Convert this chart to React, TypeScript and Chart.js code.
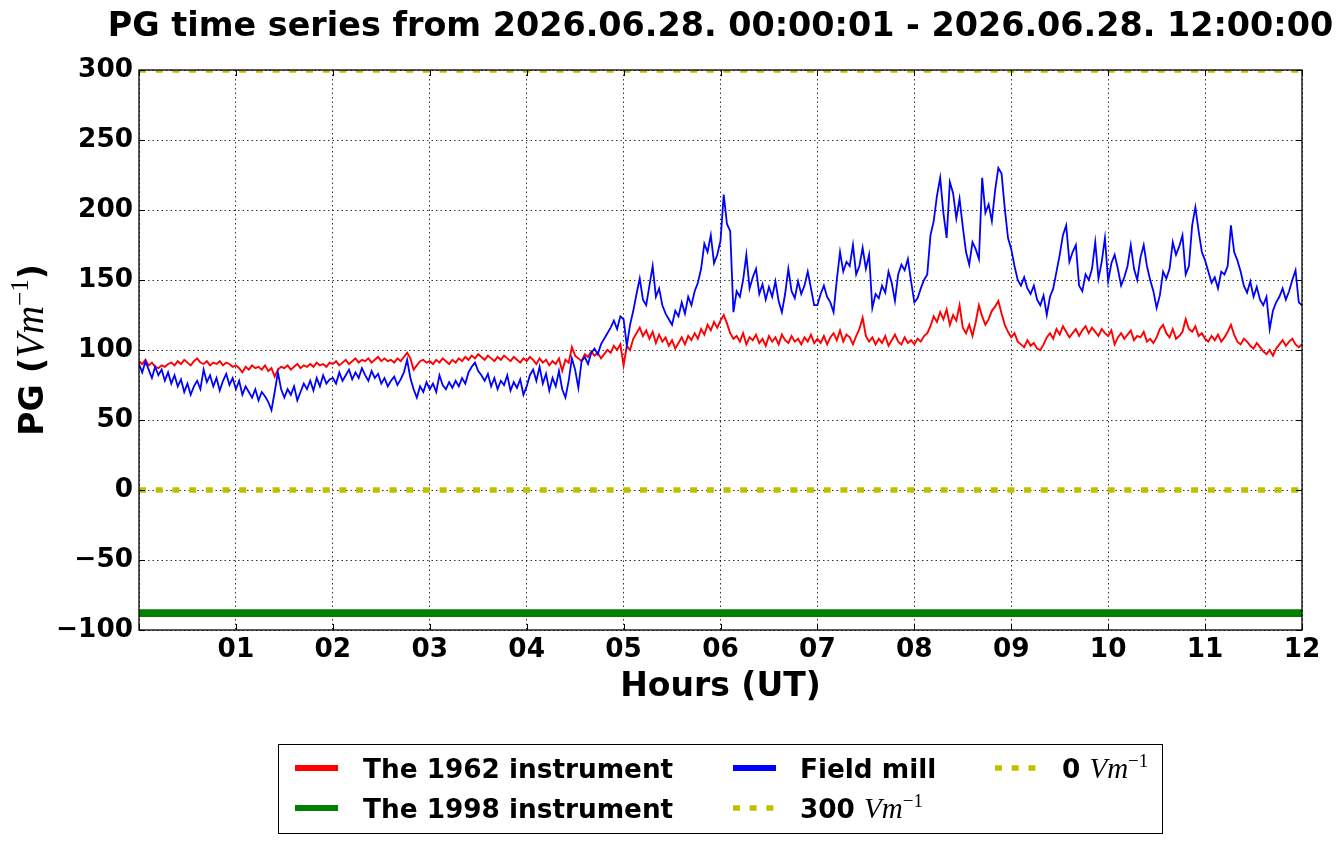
import React, { useEffect, useRef } from "react";
import { Chart, registerables } from "chart.js";

Chart.register(...registerables);

// ---------- data ----------
const STEP_MINUTES = 2; // one value every 2 minutes, 00:00 .. 12:00

// The 1962 instrument (V/m)
const RED_1962: number[] = [
  92, 90, 93, 89, 91, 88, 87, 89, 88, 90, 91, 89, 92, 90, 93, 91, 89, 92, 94, 91, 90, 92, 89, 91, 90, 92, 89, 91, 90, 88,
  89, 87, 84, 88, 86, 89, 87, 88, 86, 89, 85, 87, 81, 86, 88, 87, 89, 86, 88, 90, 87, 89, 88, 90, 88, 91, 89, 90, 88, 91,
  90, 92, 89, 91, 93, 90, 92, 94, 91, 93, 92, 94, 91, 93, 95, 92, 94, 92, 93, 91, 94, 92, 95, 98, 94, 86, 89, 92, 93, 91,
  92, 90, 93, 91, 94, 92, 90, 93, 91, 94, 92, 95, 93, 96, 94, 97, 95, 93, 96, 94, 92, 95, 93, 96, 94, 92, 95, 93, 91, 94,
  92, 95, 93, 90, 94, 91, 93, 89, 92, 90, 94, 85, 93, 91, 102, 96, 94, 92, 97, 95, 99, 96, 98, 94, 97, 100, 98, 103, 100, 104,
  89, 103, 100, 108, 112, 116, 110, 114, 108, 113, 105, 111, 106, 109, 103, 107, 101, 105, 109, 104, 110, 107, 112, 108, 115, 111, 118, 114, 120, 116,
  121, 125, 119, 112, 108, 110, 106, 112, 104, 109, 107, 111, 105, 108, 103, 110, 106, 109, 104, 111, 107, 105, 110, 106, 108, 104, 109, 106, 111, 105,
  108, 105, 110, 104, 109, 112, 107, 114, 106, 111, 109, 104, 110, 115, 123, 110, 106, 109, 104, 108, 105, 110, 103, 107, 111, 106, 104, 109, 105, 107,
  104, 108, 106, 110, 112, 117, 124, 120, 127, 122, 129, 118, 125, 121, 132, 116, 112, 118, 110, 120, 132, 124, 118, 122, 128, 131, 135, 126, 118, 113,
  109, 112, 106, 104, 102, 107, 103, 105, 101, 100, 104, 109, 112, 108, 115, 111, 117, 113, 109, 112, 115, 110, 114, 117, 112, 116, 113, 110, 115, 112,
  110, 114, 104, 109, 112, 108, 111, 114, 107, 110, 109, 113, 106, 108, 105, 109, 115, 118, 112, 109, 115, 108, 110, 113, 122, 115, 113, 117, 110, 112,
  108, 106, 110, 107, 111, 106, 109, 113, 118, 111, 106, 104, 108, 106, 103, 101, 105, 102, 99, 97, 100, 96, 101, 104, 107, 103, 106, 108, 104, 102,
  104,
];

// Field mill (V/m)
const FIELD_MILL: number[] = [
  90, 84, 92, 86, 80, 88, 82, 86, 78, 84, 76, 82, 74, 79, 70, 76, 68, 74, 78, 72, 86, 77, 82, 74, 80, 71, 78, 83, 75, 80,
  72, 78, 68, 74, 70, 66, 72, 64, 70, 67, 63, 57, 70, 84, 72, 66, 72, 68, 74, 64, 70, 76, 72, 78, 71, 80, 74, 82, 76, 79,
  80, 76, 84, 78, 82, 86, 79, 84, 80, 87, 82, 78, 85, 80, 83, 76, 80, 74, 78, 81, 75, 79, 84, 93, 80, 72, 66, 74, 70, 77,
  72, 76, 70, 82, 75, 72, 77, 73, 78, 74, 80, 76, 84, 88, 91, 85, 82, 78, 83, 74, 80, 72, 78, 75, 82, 71, 77, 73, 79, 68,
  74, 82, 86, 78, 88, 76, 83, 71, 80, 74, 85, 72, 66, 78, 94, 86, 73, 92, 95, 90, 98, 101, 97, 104, 108, 112, 116, 121, 115, 124,
  122, 103, 118, 128, 140, 151, 136, 132, 146, 160, 138, 144, 132, 126, 122, 118, 128, 124, 134, 126, 138, 132, 142, 148, 158, 176, 170, 182, 162, 168,
  178, 211, 190, 185, 127, 142, 138, 150, 168, 144, 152, 158, 140, 147, 136, 145, 138, 149, 135, 127, 140, 158, 142, 137, 149, 140, 146, 156, 144, 132,
  132, 140, 146, 138, 134, 127, 150, 170, 156, 163, 160, 175, 154, 160, 173, 158, 168, 130, 140, 137, 146, 141, 156, 148, 135, 154, 161, 157, 165, 149,
  134, 137, 144, 150, 154, 182, 192, 210, 223, 198, 180, 220, 212, 194, 208, 188, 170, 161, 177, 172, 165, 223, 198, 204, 192, 214, 230, 226, 201, 180,
  172, 160, 150, 146, 152, 144, 140, 146, 136, 132, 139, 125, 138, 144, 156, 168, 182, 189, 163, 170, 175, 146, 142, 154, 150, 158, 177, 151, 163, 180,
  149, 162, 168, 158, 146, 152, 160, 175, 158, 150, 166, 175, 160, 150, 142, 130, 139, 156, 151, 158, 177, 168, 174, 182, 154, 160, 189, 202, 185, 170,
  164, 156, 148, 152, 144, 156, 154, 160, 189, 170, 164, 156, 146, 141, 149, 138, 145, 136, 132, 138, 115, 128, 134, 138, 144, 136, 142, 150, 157, 134,
  132,
];

// The 1998 instrument (flat line in the reference)
const GREEN_1998_LEVEL = -88;
// Reference levels
const ZERO_LEVEL = 0;
const TOP_LEVEL = 300;

const X_MIN = 0;
const X_MAX = 12;
const X_TICK_VALUES = [0, 1, 2, 3, 4, 5, 6, 7, 8, 9, 10, 11, 12];
const X_TICK_LABELS = ["", "01", "02", "03", "04", "05", "06", "07", "08", "09", "10", "11", "12"];
const Y_MIN = -100;
const Y_MAX = 300;
const Y_TICK_VALUES = [-100, -50, 0, 50, 100, 150, 200, 250, 300];
const Y_TICK_LABELS = ["\u2212100", "\u221250", "0", "50", "100", "150", "200", "250", "300"];

const TITLE = "PG time series from 2026.06.28. 00:00:01 - 2026.06.28. 12:00:00";
const X_LABEL = "Hours (UT)";
const Y_LABEL_PREFIX = "PG (";
const UNIT_BASE = "Vm";
const UNIT_EXP = "\u22121";
const LEGEND_LABELS = ["The 1962 instrument", "The 1998 instrument", "Field mill", "300 ", "0 "];

// ---------- styles ----------
const RED = "#ff0000";
const GREEN = "#008000";
const BLUE = "#0000ff";
const YELLOW = "#bfbf00";
const SANS = "'DejaVu Sans'";
const SERIF = "'Liberation Serif'";
const DOTS = [7, 9.7];

type Run = { text: string; font: string; dy?: number };

function drawRuns(ctx: CanvasRenderingContext2D, runs: Run[], x: number, y: number, align: "left" | "center") {
  const widths = runs.map((r) => {
    ctx.font = r.font;
    return ctx.measureText(r.text).width;
  });
  const total = widths.reduce((a, b) => a + b, 0);
  let cx = align === "center" ? x - total / 2 : x;
  ctx.textAlign = "left";
  ctx.textBaseline = "alphabetic";
  runs.forEach((r, i) => {
    ctx.font = r.font;
    ctx.fillText(r.text, cx, y + (r.dy ?? 0));
    cx += widths[i];
  });
}

const decorPlugin = {
  id: "decor",
  afterDatasetsDraw(chart: any) {
    const { ctx, chartArea: a, scales } = chart;
    ctx.save();
    // frame
    ctx.strokeStyle = "#000";
    ctx.lineWidth = 1.3;
    ctx.setLineDash([]);
    ctx.strokeRect(a.left, a.top, a.right - a.left, a.bottom - a.top);
    // inward ticks on all four sides
    const tl = 6;
    ctx.lineWidth = 1;
    ctx.beginPath();
    scales.x.ticks.forEach((t: any) => {
      const px = Math.round(scales.x.getPixelForValue(t.value)) + 0.5;
      ctx.moveTo(px, a.bottom);
      ctx.lineTo(px, a.bottom - tl);
      ctx.moveTo(px, a.top);
      ctx.lineTo(px, a.top + tl);
    });
    scales.y.ticks.forEach((t: any) => {
      const py = Math.round(scales.y.getPixelForValue(t.value)) + 0.5;
      ctx.moveTo(a.left, py);
      ctx.lineTo(a.left + tl, py);
      ctx.moveTo(a.right, py);
      ctx.lineTo(a.right - tl, py);
    });
    ctx.stroke();
    ctx.restore();
  },
  afterDraw(chart: any) {
    const { ctx, chartArea: a } = chart;
    const cx = (a.left + a.right) / 2;
    const cy = (a.top + a.bottom) / 2;
    ctx.save();
    ctx.fillStyle = "#000";

    // title
    drawRuns(ctx, [{ text: TITLE, font: `bold 33.4px ${SANS}` }], cx, 36, "center");
    // x label
    drawRuns(ctx, [{ text: X_LABEL, font: `bold 33px ${SANS}` }], cx, 696, "center");
    // y label (rotated)
    ctx.save();
    ctx.translate(43, cy);
    ctx.rotate(-Math.PI / 2);
    drawRuns(
      ctx,
      [
        { text: Y_LABEL_PREFIX, font: `bold 33px ${SANS}` },
        { text: UNIT_BASE, font: `italic 39px ${SERIF}` },
        { text: UNIT_EXP, font: `25px ${SERIF}`, dy: -15 },
        { text: ")", font: `bold 33px ${SANS}` },
      ],
      0,
      0,
      "center"
    );
    ctx.restore();

    // legend
    const box = { x: 278.5, y: 744.5, w: 884, h: 89 };
    ctx.fillStyle = "#fff";
    ctx.fillRect(box.x, box.y, box.w, box.h);
    ctx.strokeStyle = "#000";
    ctx.lineWidth = 1;
    ctx.setLineDash([]);
    ctx.strokeRect(box.x, box.y, box.w, box.h);

    const rows = [768, 808];
    const handleX = [295, 733, 995];
    const textX = [363, 800, 1062];
    const hl = 43;
    const items = [
      { col: 0, row: 0, color: RED, dash: [] as number[], label: LEGEND_LABELS[0], unit: false },
      { col: 0, row: 1, color: GREEN, dash: [] as number[], label: LEGEND_LABELS[1], unit: false },
      { col: 1, row: 0, color: BLUE, dash: [] as number[], label: LEGEND_LABELS[2], unit: false },
      { col: 1, row: 1, color: YELLOW, dash: DOTS, label: LEGEND_LABELS[3], unit: true },
      { col: 2, row: 0, color: YELLOW, dash: DOTS, label: LEGEND_LABELS[4], unit: true },
    ];
    items.forEach((it) => {
      const y = rows[it.row];
      ctx.beginPath();
      ctx.strokeStyle = it.color;
      ctx.lineWidth = it.dash.length ? 5.5 : 6;
      ctx.lineCap = "butt";
      ctx.setLineDash(it.dash);
      ctx.moveTo(handleX[it.col], y);
      ctx.lineTo(handleX[it.col] + hl, y);
      ctx.stroke();
      ctx.setLineDash([]);
      ctx.fillStyle = "#000";
      const runs: Run[] = [{ text: it.label, font: `bold 26.3px ${SANS}` }];
      if (it.unit) {
        runs.push({ text: UNIT_BASE, font: `italic 29px ${SERIF}` });
        runs.push({ text: UNIT_EXP, font: `19px ${SERIF}`, dy: -11 });
      }
      drawRuns(ctx, runs, textX[it.col], y + 9.5, "left");
    });
    ctx.restore();
  },
};

const toPoints = (vals: number[]) => vals.map((v, i) => ({ x: (i * STEP_MINUTES) / 60, y: v }));
const flat = (level: number) => [
  { x: X_MIN, y: level },
  { x: X_MAX, y: level },
];

export default function App() {
  const canvasRef = useRef<HTMLCanvasElement | null>(null);

  useEffect(() => {
    const canvas = canvasRef.current;
    if (!canvas) return;
    const tickFont = { family: "DejaVu Sans", size: 26.3, weight: "bold" as const };
    const chart = new Chart(canvas, {
      type: "line",
      data: {
        datasets: [
          { label: "The 1962 instrument", data: toPoints(RED_1962), borderColor: RED, borderWidth: 1.9, pointRadius: 0, tension: 0, clip: 0, order: 5 },
          { label: "The 1998 instrument", data: flat(GREEN_1998_LEVEL), borderColor: GREEN, borderWidth: 7.7, pointRadius: 0, clip: 0, order: 4 },
          { label: "Field mill", data: toPoints(FIELD_MILL), borderColor: BLUE, borderWidth: 1.8, pointRadius: 0, tension: 0, clip: 0, order: 3 },
          { label: "300", data: flat(TOP_LEVEL), borderColor: YELLOW, borderWidth: 5.5, borderDash: DOTS, borderCapStyle: "butt", pointRadius: 0, clip: 0, order: 2 },
          { label: "0", data: flat(ZERO_LEVEL), borderColor: YELLOW, borderWidth: 5.5, borderDash: DOTS, borderCapStyle: "butt", pointRadius: 0, clip: 0, order: 1 },
        ] as any,
      },
      options: {
        animation: false,
        responsive: false,
        events: [],
        layout: { padding: { left: 0, right: 40, top: 70, bottom: 0 } },
        plugins: {
          legend: { display: false },
          tooltip: { enabled: false },
          title: { display: false },
        },
        scales: {
          x: {
            type: "linear",
            min: X_MIN,
            max: X_MAX,
            afterBuildTicks: (s: any) => {
              s.ticks = X_TICK_VALUES.map((v) => ({ value: v }));
            },
            afterFit: (s: any) => {
              s.height = 214;
            },
            ticks: {
              autoSkip: false,
              maxRotation: 0,
              color: "#000",
              font: tickFont,
              padding: 4,
              callback: (v: any) => X_TICK_LABELS[X_TICK_VALUES.indexOf(Number(v))] ?? "",
            },
            grid: { color: "rgba(0,0,0,0.8)", lineWidth: 1, drawTicks: false },
            border: { display: false, dash: [1.5, 3] },
          },
          y: {
            type: "linear",
            min: Y_MIN,
            max: Y_MAX,
            afterBuildTicks: (s: any) => {
              s.ticks = Y_TICK_VALUES.map((v) => ({ value: v }));
            },
            afterFit: (s: any) => {
              s.width = 139;
            },
            ticks: {
              color: "#000",
              font: tickFont,
              padding: 6,
              callback: (v: any) => Y_TICK_LABELS[Y_TICK_VALUES.indexOf(Number(v))] ?? "",
            },
            grid: { color: "rgba(0,0,0,0.8)", lineWidth: 1, drawTicks: false },
            border: { display: false, dash: [1.5, 3] },
          },
        },
      },
      plugins: [decorPlugin],
    } as any);
    return () => chart.destroy();
  }, []);

  return (
    <div style={{ position: "fixed", left: 0, top: 0, width: 1342, height: 844, background: "#fff" }}>
      <canvas ref={canvasRef} width={1342} height={844} style={{ display: "block" }} />
    </div>
  );
}
